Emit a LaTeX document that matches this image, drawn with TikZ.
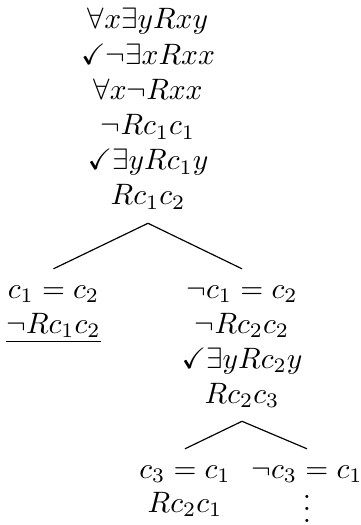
\documentclass[tikz,border=0pt]{standalone}
\usepackage{amssymb}
\usepackage{tikz}
\tikzset{
  fml/.style={anchor=base, inner xsep=0pt, inner ysep=4pt, text height=5.7pt, text depth=2pt}, % one line of the tableau
  branch/.style={line width=0.4pt},
}
\begin{document}
\begin{tikzpicture}[x=0.339pt, y=-0.339pt]
  \def\M{148}\def\L{53.5}\def\R{242}\def\RL{185}\def\RR{307}
  \useasboundingbox (0,0) rectangle (361,525);

  % trunk
  \foreach \f [count=\i] in {{$\forall x\exists yRxy$},{$\checkmark\neg\exists xRxx$},
      {$\forall x\neg Rxx$},{$\neg Rc_1c_1$},{$\checkmark\exists yRc_1y$},{$Rc_1c_2$}}{
    \pgfmathsetmacro{\yy}{29+35.2*(\i-1)}
    \node[fml] (t\i) at (\M,\yy) {\f};
  }

  % left branch (closed)
  \node[fml] (l1) at (\L,298) {$c_1=c_2$};
  \node[fml] (l2) at (\L,333) {$\underline{\neg Rc_1c_2}$};

  % right branch
  \node[fml] (r1) at (\R,298) {$\neg c_1=c_2$};
  \node[fml] (r2) at (\R,333) {$\neg Rc_2c_2$};
  \node[fml] (r3) at (\R,368) {$\checkmark\exists yRc_2y$};
  \node[fml] (r4) at (\R,403) {$Rc_2c_3$};

  \node[fml] (rl1) at (\RL,478) {$c_3=c_1$};
  \node[fml] (rl2) at (\RL,512) {$Rc_2c_1$};
  \node[fml] (rr1) at (\RR,478) {$\neg c_3=c_1$};
  \node[anchor=base, inner sep=0pt] (rr2) at (\RR,522) {$\vdots$};

  \draw[branch] (t6.south) -- (l1.north);
  \draw[branch] (t6.south) -- (r1.north);
  \draw[branch] (r4.south) -- (rl1.north);
  \draw[branch] (r4.south) -- (rr1.north);
\end{tikzpicture}
\end{document}
